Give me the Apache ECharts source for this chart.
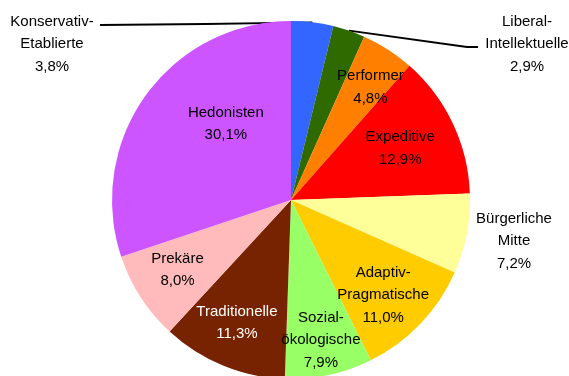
<!DOCTYPE html>
<html>
<head>
<meta charset="utf-8">
<title>Sinus-Milieus</title>
<script src="https://cdn.jsdelivr.net/npm/echarts@6/dist/echarts.min.js"></script>
<style>
  html, body { margin: 0; padding: 0; background: #fff; }
  #chart { width: 569px; height: 376px; }
</style>
</head>
<body>
<div id="chart"></div>
<script>
// Milieu shares in percent, clockwise from the top
const categories = [
  'Konservativ-Etablierte', 'Liberal-Intellektuelle', 'Performer', 'Expeditive',
  'Bürgerliche Mitte', 'Adaptiv-Pragmatische', 'Sozial-ökologische',
  'Traditionelle', 'Prekäre', 'Hedonisten'
];
const shares = [3.8, 2.9, 4.8, 12.9, 7.2, 11.0, 7.9, 11.3, 8.0, 30.1];

const colors = [
  '#3366FF', '#2E6A00', '#FF8000', '#FF0000', '#FFFF99',
  '#FFCC00', '#99FF66', '#772200', '#FFBBBB', '#CC55FF'
];

// Pie geometry (pixels)
const CX = 291, CY = 200, R = 179;

// Inside labels: [radius fraction, angular nudge in degrees from the slice middle]
const insidePlacement = {
  'Performer': [0.77, 2.4],
  'Expeditive': [0.675, 0],
  'Bürgerliche Mitte': [1.267, -0.4],
  'Adaptiv-Pragmatische': [0.74, 2.2],
  'Sozial-ökologische': [0.80, 0.2],
  'Traditionelle': [0.75, 1.4],
  'Prekäre': [0.745, 1.2],
  'Hedonisten': [0.56, 13.7]
};
// Callout labels: text anchor and leader-line elbow points
const callouts = {
  'Konservativ-Etablierte': { text: [52, 44], bend: [[206, 24], [100, 25]] },
  'Liberal-Intellektuelle': { text: [527, 44], bend: [[467, 47], [478, 47]] }
};

const total = shares.reduce((a, b) => a + b, 0);
const midAngles = [];
(function () {
  let acc = 0;
  shares.forEach(v => {
    midAngles.push((acc + v / 2) / total * 360);
    acc += v;
  });
})();

function polar(angleDeg, r) {
  const a = angleDeg * Math.PI / 180;
  return [CX + r * Math.sin(a), CY - r * Math.cos(a)];
}

function labelText(name, value) {
  const lines = name.replace('-', '-\n').replace(' ', '\n');
  return lines + '\n' + value.toFixed(1).replace('.', ',') + '%';
}

const data = categories.map((name, i) => {
  const item = {
    name: name,
    value: shares[i],
    itemStyle: { color: colors[i] },
    label: { color: name === 'Traditionelle' ? '#ffffff' : '#000000' }
  };
  if (callouts[name]) {
    item.label.position = 'outside';
    item.labelLine = { show: true };
  }
  return item;
});

const chart = echarts.init(document.getElementById('chart'), null, { renderer: 'canvas' });
chart.setOption({
  animation: false,
  backgroundColor: '#ffffff',
  series: [{
    type: 'pie',
    center: [CX, CY],
    radius: R,
    startAngle: 90,
    clockwise: true,
    avoidLabelOverlap: false,
    silent: true,
    emphasis: { disabled: true },
    itemStyle: { borderWidth: 0 },
    label: {
      show: true,
      position: 'inside',
      fontFamily: "'Liberation Sans', Arial, sans-serif",
      fontSize: 15,
      lineHeight: 22.5,
      align: 'center',
      formatter: p => labelText(p.name, p.value)
    },
    labelLine: {
      show: false,
      lineStyle: { color: '#000000', width: 1.8 }
    },
    labelLayout: function (params) {
      const i = params.dataIndex;
      const name = categories[i];
      if (callouts[name]) {
        const c = callouts[name];
        return {
          x: c.text[0], y: c.text[1],
          align: 'center', verticalAlign: 'middle',
          labelLinePoints: [polar(midAngles[i], R), c.bend[0], c.bend[1]]
        };
      }
      const pl = insidePlacement[name];
      const pt = polar(midAngles[i] + pl[1], R * pl[0]);
      return { x: pt[0], y: pt[1], align: 'center', verticalAlign: 'middle' };
    },
    data: data
  }]
});
</script>
</body>
</html>
